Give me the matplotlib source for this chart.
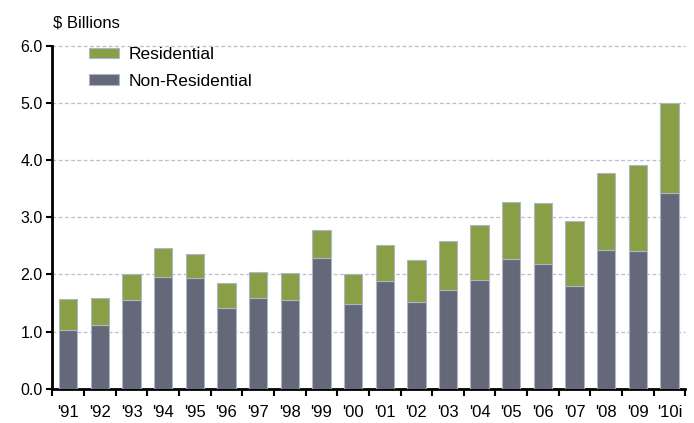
import matplotlib.pyplot as plt
import numpy as np

years = ["'91", "'92", "'93", "'94", "'95", "'96", "'97", "'98", "'99", "'00",
         "'01", "'02", "'03", "'04", "'05", "'06", "'07", "'08", "'09", "'10i"]
non_residential = [1.03, 1.12, 1.55, 1.96, 1.94, 1.42, 1.58, 1.56, 2.29, 1.48,
                   1.89, 1.52, 1.72, 1.91, 2.27, 2.19, 1.80, 2.43, 2.41, 3.43]
total = [1.57, 1.58, 2.00, 2.46, 2.35, 1.85, 2.04, 2.02, 2.77, 2.00,
         2.51, 2.25, 2.58, 2.87, 3.27, 3.24, 2.94, 3.78, 3.91, 5.00]
residential = [t - n for t, n in zip(total, non_residential)]

green = '#8a9e45'
slate = '#646878'
edge = '#a9b7c6'

plt.rcParams['font.family'] = ['Liberation Sans', 'DejaVu Sans']

fig = plt.figure(figsize=(6.94, 4.23), dpi=100)
ax = fig.add_axes([0.0755, 0.081, 0.912, 0.811])

x = np.arange(len(years))
ax.bar(x, non_residential, width=0.58, color=slate, edgecolor=edge, linewidth=0.8,
       label='Non-Residential', zorder=3)
ax.bar(x, residential, width=0.58, bottom=non_residential, color=green, edgecolor=edge,
       linewidth=0.8, label='Residential', zorder=3)

ax.set_xlim(-0.5, len(years) - 0.5)
ax.set_ylim(0, 6)
ax.set_yticks(np.arange(0, 7, 1))
ax.set_yticklabels([f'{v:.1f}' for v in np.arange(0, 7, 1)], fontsize=11.5)
ax.set_xticks(x)
ax.set_xticklabels(years, fontsize=12)
ax.set_xticks(np.arange(-0.5, len(years), 1), minor=True)
ax.tick_params(axis='x', which='major', length=0, pad=12)
ax.tick_params(axis='x', which='minor', length=5, width=1.5, direction='out', color='black')
ax.tick_params(axis='y', length=4, width=1.5, direction='out', color='black', pad=3)

for s in ['top', 'right']:
    ax.spines[s].set_visible(False)
for s in ['left', 'bottom']:
    ax.spines[s].set_linewidth(2)
    ax.spines[s].set_color('black')

ax.yaxis.grid(True, linestyle=(0, (3, 2)), color='#bdbdcb', linewidth=0.9, zorder=0)
for gl in ax.get_ygridlines():
    gl.set_clip_on(False)
ax.set_axisbelow(True)

handles, labels = ax.get_legend_handles_labels()
ax.legend(handles[::-1], labels[::-1], loc='upper left', bbox_to_anchor=(0.058, 0.995),
          frameon=False, fontsize=12.5, handlelength=1.7, handleheight=0.55,
          handletextpad=0.6, labelspacing=0.65, borderaxespad=0, borderpad=0)

fig.text(53 / 694, 1 - 23 / 423, '$ Billions', fontsize=12, va='center', ha='left')

fig.savefig('out.png', dpi=100)
